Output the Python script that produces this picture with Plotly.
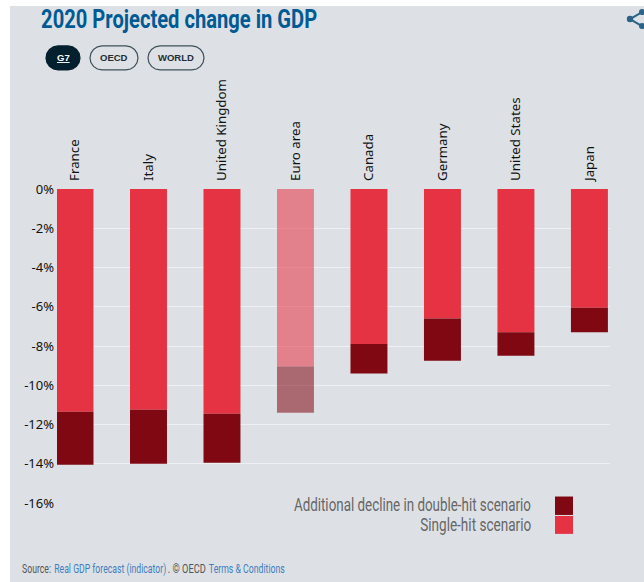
import math
import plotly.graph_objects as go

countries = ["France", "Italy", "United Kingdom", "Euro area", "Canada", "Germany", "United States", "Japan"]
single_hit = [-11.35, -11.25, -11.45, -9.05, -7.9, -6.6, -7.3, -6.05]
additional = [-2.7, -2.75, -2.5, -2.35, -1.5, -2.15, -1.2, -1.25]
bar_opacity = [1, 1, 1, 0.55, 1, 1, 1, 1]
y_ticks = [0, -2, -4, -6, -8, -10, -12, -14, -16]
y_labels = ["0%", "-2%", "-4%", "-6%", "-8%", "-10%", "-12%", "-14%", "-16%"]

W, H = 644, 582
L, R, T, B = 57, 610, 188.5, 503.5
RED, DARK = "#e63343", "#7f0812"
BG = "#dde1e5"
COND = "Roboto"
LINK = "#3f7fbf"


def X(p):
    return (p - L) / (R - L)


def Y(p):
    return (B - p) / (B - T)


def pill(x0, x1, y0, y1, fill, line):
    r = (y1 - y0) / 2
    n = 8
    pts = []
    for i in range(n + 1):
        a = -math.pi / 2 + math.pi * i / n
        pts.append((x1 - r + r * math.cos(a), y0 + r + r * math.sin(a)))
    for i in range(n + 1):
        a = math.pi / 2 + math.pi * i / n
        pts.append((x0 + r + r * math.cos(a), y0 + r + r * math.sin(a)))
    path = "M " + " L ".join(f"{X(a):.5f},{Y(b):.5f}" for a, b in pts) + " Z"
    return dict(type="path", xref="paper", yref="paper", path=path, fillcolor=fill,
                line=dict(color=line, width=1.2), layer="above")


def rect(x0, x1, y0, y1, fill, layer="above"):
    return dict(type="rect", xref="paper", yref="paper", x0=X(x0), x1=X(x1), y0=Y(y0), y1=Y(y1),
                fillcolor=fill, line=dict(width=0), layer=layer)


def text(x, y, s, size, color, family, xanchor="center", bold=False):
    return dict(xref="paper", yref="paper", x=X(x), y=Y(y), text=f"<b>{s}</b>" if bold else s,
                showarrow=False, xanchor=xanchor, yanchor="middle",
                font=dict(size=size, color=color, family=family))


SHARE = "#2a6288"
shapes = [
    rect(10, 660, 5, 590, BG, "below"),
    pill(46, 80, 45, 69, "#03202e", "#03202e"),
    pill(90, 138, 45, 69, "rgba(0,0,0,0)", "#3e4f5a"),
    pill(148, 204, 45, 69, "rgba(0,0,0,0)", "#3e4f5a"),
    rect(555, 573, 497, 515.5, DARK),
    rect(555, 573, 516.5, 534.5, RED),
]
for (x0, y0, x1, y1) in [(630, 18, 642, 11), (630, 18, 642, 25)]:
    shapes.append(dict(type="line", xref="paper", yref="paper", x0=X(x0), x1=X(x1), y0=Y(y0), y1=Y(y1),
                       line=dict(color=SHARE, width=2), layer="above"))
for (cx, cy, r) in [(630, 18, 3.2), (642, 11, 3), (642, 25, 3)]:
    shapes.append(dict(type="circle", xref="paper", yref="paper", x0=X(cx - r), x1=X(cx + r),
                       y0=Y(cy - r), y1=Y(cy + r), fillcolor=SHARE, line=dict(width=0), layer="above"))

annotations = [
    text(179, 18, "2020 Projected change in GDP", 26, "#005a94", COND, bold=True),
    text(63, 57, "<u>G7</u>", 9.5, "#ffffff", "Liberation Sans", bold=True),
    text(114, 57, "OECD", 9.5, "#1e2d36", "Liberation Sans", bold=True),
    text(176, 57, "WORLD", 9.5, "#1e2d36", "Liberation Sans", bold=True),
    text(412.5, 505, "Additional decline in double-hit scenario", 18, "#666666", COND),
    text(475.5, 525, "Single-hit scenario", 18, "#666666", COND),
    text(36.5, 569, "Source:", 13.5, "#555555", COND),
    text(110, 569, "Real GDP forecast (indicator)", 13.5, LINK, COND),
    text(187, 569, ". © OECD", 13.5, "#555555", COND),
    text(247, 569, "Terms &amp; Conditions", 13.5, LINK, COND),
]

fig = go.Figure()
fig.add_bar(x=countries, y=single_hit, name="Single-hit scenario",
            marker=dict(color=RED, opacity=bar_opacity, line=dict(width=0)))
fig.add_bar(x=countries, y=additional, name="Additional decline in double-hit scenario",
            marker=dict(color=DARK, opacity=bar_opacity, line=dict(width=0)))

fig.update_layout(
    width=W, height=H, barmode="relative", bargap=0.497, showlegend=False,
    paper_bgcolor="#ffffff", plot_bgcolor=BG,
    margin=dict(l=L, r=W - R, t=T, b=H - B, pad=0, autoexpand=False),
    shapes=shapes, annotations=annotations,
    font=dict(family="Noto Sans", size=13, color="#111111"),
    xaxis=dict(side="top", type="category", range=[-0.245, 7.28], tickangle=-90, showgrid=False,
               zeroline=False, showline=False, ticks="", ticklabelstandoff=7,
               tickfont=dict(size=13.3, family="Noto Sans", color="#111111"), fixedrange=True),
    yaxis=dict(range=[-16, 0], tickvals=y_ticks, ticktext=y_labels, showgrid=True, gridcolor="#eef0f2",
               gridwidth=1, zeroline=False, showline=False, ticks="", ticklabelstandoff=2,
               tickfont=dict(size=13, family="Noto Sans", color="#111111"), fixedrange=True),
)

# The reference uses a condensed face that is not installed: squeeze the text to the widths it has there.
post = """
document.body.style.margin='0';document.body.style.overflow='hidden';
var widths=[['2020 Projected',276],['Additional decline',237],['Single-hit',111],['Source:',29],
            ['Real GDP',112],['. ©',38],['Terms',76]];
document.querySelectorAll('text.annotation-text').forEach(function(t){
  widths.forEach(function(w){
    if(t.textContent.indexOf(w[0])===0){
      t.setAttribute('textLength',w[1]);t.setAttribute('lengthAdjust','spacingAndGlyphs');
    }
  });
});
"""
fig.write_html("out.html", config=dict(displayModeBar=False), post_script=post)
